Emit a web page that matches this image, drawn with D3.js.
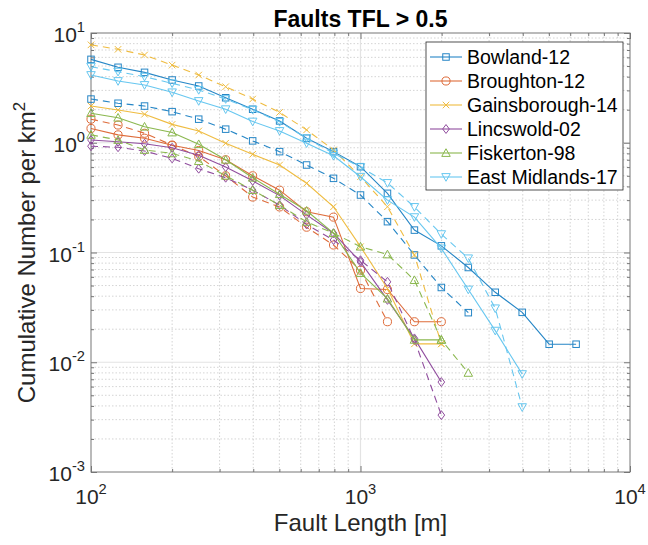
<!DOCTYPE html>
<html>
<head>
<meta charset="utf-8">
<script src="https://cdn.jsdelivr.net/npm/d3@7"></script>
<style>
  html, body { margin: 0; padding: 0; background: #fff; }
  svg { display: block; font-family: "Liberation Sans", Arial, Helvetica, sans-serif; }
</style>
</head>
<body>
<svg id="chart" width="648" height="545"></svg>
<script>
// Fault length bins (m), log-spaced at 0.1 decade
const lengths = [100, 126, 158, 200, 251, 316, 398, 501, 631, 794, 1000, 1259, 1585, 1995, 2512, 3162, 3981, 5012, 6310];

const surveys = ["Bowland-12", "Broughton-12", "Gainsborough-14", "Lincswold-02", "Fiskerton-98", "East Midlands-17"];

// Cumulative number per km^2, solid = first estimate, dashed = second estimate
const bowlandSolid = [5.75, 4.87, 4.38, 3.73, 3.29, 2.57, 2.02, 1.58, 1.10, 0.83, 0.605, 0.346, 0.16, 0.115, 0.073, 0.0434, 0.0285, 0.0146, 0.0146];
const bowlandDash = [2.5, 2.29, 2.16, 1.92, 1.64, 1.33, 1.04, 0.83, 0.627, 0.474, 0.334, 0.191, 0.095, 0.048, 0.0283];
const broughtonSolid = [1.35, 1.18, 1.10, 0.95, 0.85, 0.70, 0.50, 0.37, 0.235, 0.21, 0.047, 0.046, 0.0234, 0.0234];
const broughtonDash = [1.64, 1.45, 1.22, 0.95, 0.75, 0.50, 0.32, 0.26, 0.17, 0.117, 0.069, 0.0234];
const gainsSolid = [2.16, 1.99, 1.82, 1.47, 1.28, 0.99, 0.785, 0.627, 0.427, 0.261, 0.113, 0.047, 0.0147, 0.0147];
const gainsDash = [7.8, 7.1, 6.3, 5.1, 4.14, 3.24, 2.5, 1.89, 1.31, 0.86, 0.49, 0.261, 0.095, 0.0147];
const lincsSolid = [1.06, 1.02, 0.98, 0.90, 0.77, 0.60, 0.45, 0.33, 0.22, 0.15, 0.082, 0.037, 0.0165, 0.0066];
const lincsDash = [0.93, 0.91, 0.84, 0.72, 0.58, 0.48, 0.37, 0.27, 0.18, 0.13, 0.085, 0.054, 0.016, 0.0033];
const fiskSolid = [1.86, 1.69, 1.40, 1.24, 0.97, 0.70, 0.48, 0.34, 0.24, 0.15, 0.065, 0.038, 0.016, 0.016];
const fiskDash = [1.18, 1.06, 0.86, 0.80, 0.68, 0.50, 0.37, 0.27, 0.19, 0.15, 0.113, 0.096, 0.056, 0.016, 0.008];
const emSolid = [4.14, 3.65, 3.36, 2.88, 2.40, 2.02, 1.56, 1.28, 0.99, 0.76, 0.49, 0.30, 0.21, 0.109, 0.046, 0.0194, 0.0078];
const emDash = [4.93, 4.44, 4.0, 3.48, 3.03, 2.5, 2.0, 1.55, 1.1, 0.8, 0.6, 0.43, 0.26, 0.147, 0.0885, 0.031, 0.0039];

const colors = ["#0072BD", "#D95319", "#EDB120", "#7E2F8E", "#77AC30", "#4DBEEE"];
const markers = ["square", "circle", "cross", "diamond", "triUp", "triDown"];

const xTickValues = [100, 1000, 10000];
const xTickExp = ["2", "3", "4"];
const yTickValues = [0.001, 0.01, 0.1, 1, 10];
const yTickExp = ["-3", "-2", "-1", "0", "1"];

const title = "Faults TFL > 0.5";
const xLabel = "Fault Length [m]";

const series = [
  { s: 0, dash: false, v: bowlandSolid }, { s: 0, dash: true, v: bowlandDash },
  { s: 1, dash: false, v: broughtonSolid }, { s: 1, dash: true, v: broughtonDash },
  { s: 2, dash: false, v: gainsSolid }, { s: 2, dash: true, v: gainsDash },
  { s: 3, dash: false, v: lincsSolid }, { s: 3, dash: true, v: lincsDash },
  { s: 4, dash: false, v: fiskSolid }, { s: 4, dash: true, v: fiskDash },
  { s: 5, dash: false, v: emSolid }, { s: 5, dash: true, v: emDash }
];

const svg = d3.select("#chart");
const m = { left: 91, right: 630, top: 33, bottom: 472 };

const x = d3.scaleLog().domain([100, 10000]).range([m.left, m.right]);
const y = d3.scaleLog().domain([0.001, 10]).range([m.bottom, m.top]);

// minor values per decade
function minors(lo, hi) {
  const out = [];
  for (let e = Math.log10(lo); e < Math.log10(hi); e++) {
    for (let k = 2; k <= 9; k++) out.push(k * Math.pow(10, e));
  }
  return out;
}
const xMinor = minors(100, 10000);
const yMinor = minors(0.001, 10);

const grid = svg.append("g");
grid.selectAll("line.xm").data(xMinor).join("line")
  .attr("x1", d => x(d)).attr("x2", d => x(d)).attr("y1", m.top).attr("y2", m.bottom)
  .attr("stroke", "#c9c9c9").attr("stroke-width", 0.8).attr("stroke-dasharray", "1.5,2");
grid.selectAll("line.ym").data(yMinor).join("line")
  .attr("y1", d => y(d)).attr("y2", d => y(d)).attr("x1", m.left).attr("x2", m.right)
  .attr("stroke", "#c9c9c9").attr("stroke-width", 0.8).attr("stroke-dasharray", "1.5,2");
grid.selectAll("line.xM").data(xTickValues.slice(1, -1)).join("line")
  .attr("x1", d => x(d)).attr("x2", d => x(d)).attr("y1", m.top).attr("y2", m.bottom)
  .attr("stroke", "#e3e3e3").attr("stroke-width", 1.2);
grid.selectAll("line.yM").data(yTickValues.slice(1, -1)).join("line")
  .attr("y1", d => y(d)).attr("y2", d => y(d)).attr("x1", m.left).attr("x2", m.right)
  .attr("stroke", "#e3e3e3").attr("stroke-width", 1.2);

// axes with inward ticks on all four sides
const axisColor = "#777";
function styleAxis(g) {
  g.select(".domain").remove();
  g.selectAll("line").attr("stroke", axisColor);
  g.selectAll("text").remove();
}
svg.append("g").attr("transform", `translate(0,${m.bottom})`)
  .call(d3.axisBottom(x).tickValues(xTickValues).tickSize(-6)).call(styleAxis);
svg.append("g").attr("transform", `translate(0,${m.bottom})`)
  .call(d3.axisBottom(x).tickValues(xMinor).tickSize(-3)).call(styleAxis);
svg.append("g").attr("transform", `translate(0,${m.top})`)
  .call(d3.axisTop(x).tickValues(xTickValues).tickSize(-6)).call(styleAxis);
svg.append("g").attr("transform", `translate(0,${m.top})`)
  .call(d3.axisTop(x).tickValues(xMinor).tickSize(-3)).call(styleAxis);
svg.append("g").attr("transform", `translate(${m.left},0)`)
  .call(d3.axisLeft(y).tickValues(yTickValues).tickSize(-6)).call(styleAxis);
svg.append("g").attr("transform", `translate(${m.left},0)`)
  .call(d3.axisLeft(y).tickValues(yMinor).tickSize(-3)).call(styleAxis);
svg.append("g").attr("transform", `translate(${m.right},0)`)
  .call(d3.axisRight(y).tickValues(yTickValues).tickSize(-6)).call(styleAxis);
svg.append("g").attr("transform", `translate(${m.right},0)`)
  .call(d3.axisRight(y).tickValues(yMinor).tickSize(-3)).call(styleAxis);

svg.append("rect").attr("x", m.left).attr("y", m.top)
  .attr("width", m.right - m.left).attr("height", m.bottom - m.top)
  .attr("fill", "none").attr("stroke", axisColor).attr("stroke-width", 1);

// tick labels as 10 with superscript exponent
const tickFont = 21;
svg.append("g").selectAll("text").data(xTickValues).join("text")
  .attr("x", d => x(d)).attr("y", m.bottom + 32)
  .attr("text-anchor", "middle").attr("font-size", tickFont).attr("fill", "#262626")
  .each(function(d, i) {
    const t = d3.select(this);
    t.append("tspan").text("10");
    t.append("tspan").attr("dy", -10).attr("font-size", tickFont * 0.7).text(xTickExp[i]);
  });
svg.append("g").selectAll("text").data(yTickValues).join("text")
  .attr("x", m.left - 6).attr("y", d => y(d) + 9)
  .attr("text-anchor", "end").attr("font-size", tickFont).attr("fill", "#262626")
  .each(function(d, i) {
    const t = d3.select(this);
    t.append("tspan").text("10");
    t.append("tspan").attr("dy", -10).attr("font-size", tickFont * 0.7).text(yTickExp[i]);
  });

// data lines and markers
const line = d3.line().defined(d => d != null).x((d, i) => x(lengths[i])).y(d => y(d));
const symbolSize = 5.5;
function drawMarker(g, type, cx, cy, color) {
  const r = symbolSize / 2 + 0.5;
  if (type === "square") {
    g.append("rect").attr("x", cx - r).attr("y", cy - r).attr("width", 2 * r).attr("height", 2 * r)
      .attr("fill", "none").attr("stroke", color);
  } else if (type === "circle") {
    g.append("circle").attr("cx", cx).attr("cy", cy).attr("r", r + 0.8).attr("fill", "none").attr("stroke", color);
  } else if (type === "cross") {
    g.append("path").attr("d", `M${cx - r},${cy - r}L${cx + r},${cy + r}M${cx - r},${cy + r}L${cx + r},${cy - r}`)
      .attr("stroke", color).attr("fill", "none");
  } else if (type === "diamond") {
    const k = r + 1.2;
    g.append("path").attr("d", `M${cx},${cy - k}L${cx + k * 0.75},${cy}L${cx},${cy + k}L${cx - k * 0.75},${cy}Z`)
      .attr("stroke", color).attr("fill", "none");
  } else if (type === "triUp") {
    const k = r + 1;
    g.append("path").attr("d", `M${cx},${cy - k}L${cx + k},${cy + k * 0.8}L${cx - k},${cy + k * 0.8}Z`)
      .attr("stroke", color).attr("fill", "none");
  } else if (type === "triDown") {
    const k = r + 1;
    g.append("path").attr("d", `M${cx},${cy + k}L${cx + k},${cy - k * 0.8}L${cx - k},${cy - k * 0.8}Z`)
      .attr("stroke", color).attr("fill", "none");
  }
}

const plot = svg.append("g").attr("opacity", 0.85);
series.forEach(sr => {
  const color = colors[sr.s];
  plot.append("path").datum(sr.v).attr("d", line)
    .attr("fill", "none").attr("stroke", color).attr("stroke-width", 1.1)
    .attr("stroke-dasharray", sr.dash ? "7,5" : null);
  const mg = plot.append("g").attr("stroke-width", 1);
  sr.v.forEach((d, i) => {
    if (d != null) drawMarker(mg, markers[sr.s], x(lengths[i]), y(d), color);
  });
});

// legend
const lg = svg.append("g");
lg.append("rect").attr("x", 426).attr("y", 42).attr("width", 197).attr("height", 148)
  .attr("fill", "#fff").attr("stroke", "#262626").attr("stroke-width", 0.8);
surveys.forEach((name, i) => {
  const cy = 57 + i * 24;
  const g = lg.append("g").attr("opacity", 0.85);
  g.append("line").attr("x1", 430).attr("x2", 462).attr("y1", cy).attr("y2", cy)
    .attr("stroke", colors[i]).attr("stroke-width", 1.1);
  drawMarker(g, markers[i], 446, cy, colors[i]);
  lg.append("text").attr("x", 467).attr("y", cy + 7).attr("font-size", 19.5).attr("fill", "#000").text(name);
});

// title and axis labels
svg.append("text").attr("x", (m.left + m.right) / 2).attr("y", 27)
  .attr("text-anchor", "middle").attr("font-size", 23).attr("font-weight", "bold").attr("fill", "#000").text(title);
svg.append("text").attr("x", (m.left + m.right) / 2).attr("y", 531)
  .attr("text-anchor", "middle").attr("font-size", 24).attr("fill", "#262626").text(xLabel);
const yl = svg.append("text").attr("transform", `translate(35,${(m.top + m.bottom) / 2}) rotate(-90)`)
  .attr("text-anchor", "middle").attr("font-size", 24).attr("fill", "#262626");
yl.append("tspan").text("Cumulative Number per km");
yl.append("tspan").attr("dy", -10).attr("font-size", 17).text("2");
</script>
</body>
</html>
